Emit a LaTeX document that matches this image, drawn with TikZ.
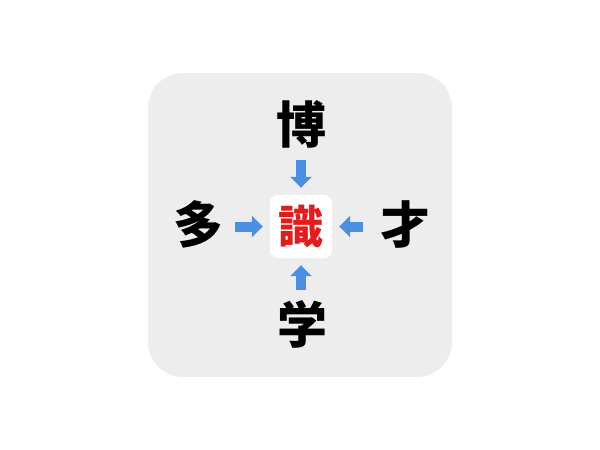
\documentclass[tikz,border=0pt]{standalone}
\usepackage{fontspec}
\newfontfamily\cjk{Noto Sans CJK JP}
\usetikzlibrary{arrows.meta}
\definecolor{bggray}{HTML}{EDEDED}
\definecolor{arrowblue}{HTML}{4A8FE2}
\definecolor{kanjired}{HTML}{E01E1E}
\tikzset{
  kanji/.style={inner sep=0pt, minimum width=50pt, minimum height=50pt,
    font=\cjk\bfseries\fontsize{50pt}{50pt}\selectfont, text height=44pt, text depth=6pt, text=black},
  hub/.style={fill=white, rounded corners=8pt, minimum width=62pt, minimum height=63pt, inner sep=0pt,
    font=\cjk\bfseries\fontsize{45pt}{45pt}\selectfont, text height=39.6pt, text depth=5.4pt, text=kanjired},
  bluearrow/.style={draw=arrowblue, line width=10pt, -{Triangle[width=21pt,length=11pt]}, shorten >=7pt}
}
\begin{document}
\begin{tikzpicture}[x=1pt,y=-1pt]
\useasboundingbox (0,0) rectangle (600,450);
\fill[bggray, rounded corners=35pt] (148,73) rectangle (452,377);
\node[hub] (c) at (301,226.5) {識};
\node[kanji] (t) at (301,124) {博};
\node[kanji] (l) at (198,224) {多};
\node[kanji] (r) at (405,224) {才};
\node[kanji] (b) at (302,324) {学};
\draw[bluearrow, shorten <=11pt] (t.south -| c.north) -- (c.north);
\draw[bluearrow, shorten <=12pt] (l.east |- c.west) -- (c.west);
\draw[bluearrow, shorten <=17pt] (r.west |- c.east) -- (c.east);
\draw[bluearrow, shorten <=9pt] (b.north -| c.south) -- (c.south);
\end{tikzpicture}
\end{document}
